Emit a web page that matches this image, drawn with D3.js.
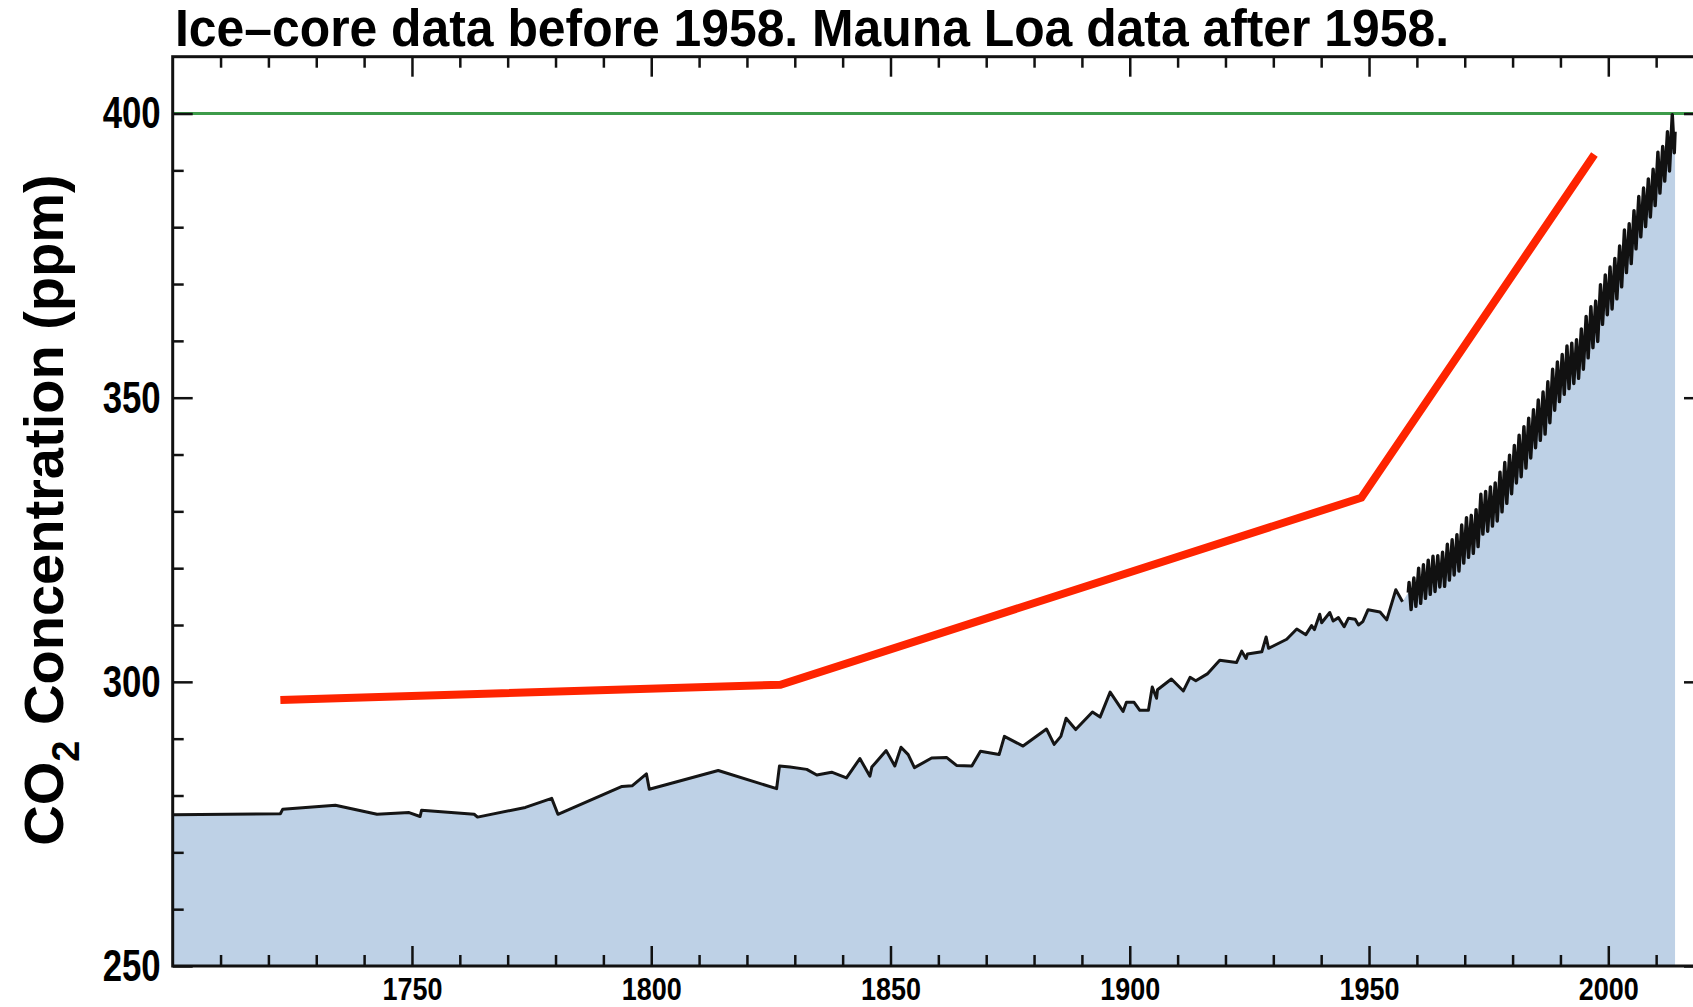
<!DOCTYPE html>
<html>
<head>
<meta charset="utf-8">
<script src="https://cdn.jsdelivr.net/npm/d3@7"></script>
<style>
  body { margin: 0; background: #fff; }
  svg { display: block; }
  text { font-family: "Liberation Sans", Arial, Helvetica, sans-serif; font-weight: bold; fill: #000; }
</style>
</head>
<body>
<div id="chart"></div>
<script>
// Ice-core record (Law Dome)
const iceYears = [1700, 1722.5, 1723, 1734, 1742.7, 1749.4, 1751.7, 1752, 1763, 1763.7,
  1773.7, 1779.2, 1780.5, 1793.9, 1796, 1799, 1799.6, 1814, 1826.2, 1826.8,
  1829, 1832.5, 1834.6, 1837.7, 1840.8, 1843.6, 1845.7, 1846.1, 1849.1, 1850.9,
  1852.2, 1853.7, 1855, 1858.6, 1861.7, 1863.8, 1867, 1868.8, 1872.7, 1873.8,
  1877.7, 1882.6, 1884.2, 1885.6, 1886.7, 1888.7, 1892.2, 1893.8, 1895.9, 1898.6,
  1899.3, 1900.9, 1902.1, 1903.9, 1904.7, 1905.6, 1905.8, 1908.7, 1911.2, 1912.6,
  1913.8, 1916.2, 1918.8, 1922.3, 1923.4, 1924.3, 1924.6, 1927.6, 1928.5, 1929,
  1932.8, 1934.9, 1936.8, 1938, 1938.6, 1939.7, 1940.1, 1941.8, 1942.5, 1943.6,
  1944.8, 1945.7, 1947.1, 1947.8, 1948.7, 1949.8, 1952.3, 1953.7, 1955.6, 1957];
const icePpm = [276.6, 276.8, 277.6, 278.3, 276.7, 277.0, 276.3, 277.4, 276.7, 276.2,
  277.9, 279.5, 276.7, 281.6, 281.7, 283.8, 281.1, 284.4, 281.2, 285.2,
  285.0, 284.6, 283.6, 284.1, 283.1, 286.5, 283.4, 285.0, 287.9, 285.2,
  288.5, 287.2, 284.9, 286.6, 286.7, 285.3, 285.2, 287.8, 287.2, 290.4,
  288.7, 291.7, 289.0, 290.4, 293.6, 291.6, 294.7, 293.8, 298.2, 294.8,
  296.4, 296.4, 295.0, 295.0, 299.1, 297.1, 298.6, 300.5, 298.4, 300.8,
  300.2, 301.4, 303.8, 303.4, 305.4, 304.1, 304.9, 305.3, 307.9, 305.9,
  307.5, 309.3, 308.3, 309.9, 309.2, 311.9, 310.4, 312.2, 310.7, 311.3,
  309.7, 311.2, 311.0, 310.0, 310.6, 312.7, 312.3, 310.9, 316.2, 314.1];

// Mauna Loa: yearly May peak and October trough
const mloYears = d3.range(1958, 2014);
const mloPeak = [317.5, 318.3, 320.0, 320.6, 321.4, 322.1, 322.2, 322.8, 324.2, 325.0,
  325.9, 327.6, 328.9, 329.3, 330.3, 333.0, 333.5, 334.3, 335.0, 336.9,
  338.6, 339.9, 341.6, 343.4, 344.9, 346.4, 347.9, 349.6, 351.0, 352.8,
  355.0, 356.3, 357.6, 359.1, 359.6, 360.2, 362.1, 364.3, 366.0, 367.0,
  369.9, 371.6, 373.0, 374.5, 376.7, 379.5, 380.6, 382.9, 385.4, 386.9,
  388.5, 390.2, 393.2, 394.2, 396.8, 399.8];
const mloTrough = [312.7, 313.3, 313.8, 314.7, 315.4, 315.9, 316.7, 316.8, 317.9, 318.8,
  319.5, 320.9, 321.9, 322.6, 323.8, 326.0, 326.5, 327.4, 328.3, 329.9,
  331.4, 333.1, 335.0, 336.1, 337.6, 339.4, 341.2, 342.5, 343.6, 345.6,
  347.8, 349.3, 350.6, 351.6, 352.5, 353.4, 355.0, 357.0, 358.8, 359.9,
  362.9, 364.6, 365.6, 367.4, 369.5, 372.0, 373.6, 376.2, 378.3, 380.1,
  381.8, 383.8, 386.0, 388.1, 389.9, 393.1];
const mloFirst = { year: 1958.2, ppm: 315.7 };
const mloLast = { year: 2013.95, ppm: 396.8 };

// hand-drawn red annotation
const redYears = [1722.5, 1827, 1948.4, 1997.1];
const redPpm = [296.8, 299.5, 332.4, 392.8];

const refLevel = 400;
const xMajor = [1750, 1800, 1850, 1900, 1950, 2000];
const yMajor = [250, 300, 350, 400];
const titleText = "Ice\u2013core data before 1958. Mauna Loa data after 1958.";

const width = 1693, height = 1007;
const plotLeft = 172.7, plotRight = 1704, plotTop = 56.7, plotBottom = 966;

const x = d3.scaleLinear().domain([1700, 2020]).range([plotLeft, plotRight]);
const y = d3.scaleLinear().domain([250, 410]).range([plotBottom, plotTop]);

const svg = d3.select("#chart").append("svg")
  .attr("width", width)
  .attr("height", height);

svg.append("defs").append("clipPath").attr("id", "plot")
  .append("rect")
  .attr("x", plotLeft).attr("y", plotTop)
  .attr("width", plotRight - plotLeft).attr("height", plotBottom - plotTop);

const ice = iceYears.map((yr, i) => ({ year: yr, ppm: icePpm[i] }));
const mlo = [mloFirst];
mloYears.forEach((yr, i) => {
  mlo.push({ year: yr + 0.37, ppm: mloPeak[i] });
  mlo.push({ year: yr + 0.79, ppm: mloTrough[i] });
});
mlo.push(mloLast);

const plot = svg.append("g").attr("clip-path", "url(#plot)");

plot.append("path")
  .datum(ice.concat(mlo))
  .attr("fill", "#bed1e6")
  .attr("d", d3.area().x(d => x(d.year)).y0(y(250)).y1(d => y(d.ppm)));

plot.append("line")
  .attr("x1", plotLeft).attr("x2", plotRight)
  .attr("y1", y(refLevel)).attr("y2", y(refLevel))
  .attr("stroke", "#3d9b4a")
  .attr("stroke-width", 3);

const line = d3.line().x(d => x(d.year)).y(d => y(d.ppm));
plot.append("path")
  .datum(ice)
  .attr("fill", "none")
  .attr("stroke", "#151515")
  .attr("stroke-width", 3)
  .attr("stroke-linejoin", "round")
  .attr("d", line);
plot.append("path")
  .datum(mlo)
  .attr("fill", "none")
  .attr("stroke", "#111")
  .attr("stroke-width", 3.4)
  .attr("stroke-linejoin", "round")
  .attr("d", line);

plot.append("path")
  .datum(redYears.map((yr, i) => ({ year: yr, ppm: redPpm[i] })))
  .attr("fill", "none")
  .attr("stroke", "#fe2400")
  .attr("stroke-width", 8)
  .attr("d", line);

// axes, ticks pointing inward
const xMinor = d3.range(1710, 2020, 10).filter(v => v % 50 !== 0);
const yMinor = d3.range(260, 410, 10).filter(v => v % 50 !== 0);

function styleAxis(g) {
  g.select(".domain").remove();
  g.selectAll(".tick line").attr("stroke", "#111").attr("stroke-width", 2.5);
}

svg.append("g").attr("transform", `translate(0,${plotBottom})`)
  .call(d3.axisBottom(x).tickValues(xMinor).tickSize(-11).tickFormat(""))
  .call(styleAxis);
const xb = svg.append("g").attr("transform", `translate(0,${plotBottom})`)
  .call(d3.axisBottom(x).tickValues(xMajor).tickSize(-20).tickPadding(12).tickFormat(d3.format("d")))
  .call(styleAxis);
xb.selectAll("text")
  .attr("font-size", 31)
  .attr("textLength", 60)
  .attr("lengthAdjust", "spacingAndGlyphs");

svg.append("g").attr("transform", `translate(0,${plotTop})`)
  .call(d3.axisTop(x).tickValues(xMinor).tickSize(-11).tickFormat(""))
  .call(styleAxis);
svg.append("g").attr("transform", `translate(0,${plotTop})`)
  .call(d3.axisTop(x).tickValues(xMajor).tickSize(-20).tickFormat(""))
  .call(styleAxis);

svg.append("g").attr("transform", `translate(${plotLeft},0)`)
  .call(d3.axisLeft(y).tickValues(yMinor).tickSize(-11).tickFormat(""))
  .call(styleAxis);
const yl = svg.append("g").attr("transform", `translate(${plotLeft},0)`)
  .call(d3.axisLeft(y).tickValues(yMajor).tickSize(-20).tickPadding(12).tickFormat(d3.format("d")))
  .call(styleAxis);
yl.selectAll("text")
  .attr("font-size", 45)
  .attr("textLength", 58)
  .attr("lengthAdjust", "spacingAndGlyphs");

svg.append("g").attr("transform", `translate(${plotRight},0)`)
  .call(d3.axisRight(y).tickValues(yMinor).tickSize(-11).tickFormat(""))
  .call(styleAxis);
svg.append("g").attr("transform", `translate(${plotRight},0)`)
  .call(d3.axisRight(y).tickValues(yMajor).tickSize(-20).tickFormat(""))
  .call(styleAxis);

// frame
svg.append("rect")
  .attr("x", plotLeft).attr("y", plotTop)
  .attr("width", plotRight - plotLeft).attr("height", plotBottom - plotTop)
  .attr("fill", "none")
  .attr("stroke", "#111")
  .attr("stroke-width", 3);

// title
svg.append("text")
  .attr("x", 175).attr("y", 46)
  .attr("font-size", 51)
  .attr("textLength", 1274)
  .attr("lengthAdjust", "spacingAndGlyphs")
  .text(titleText);

// y axis label
const ylab = svg.append("text")
  .attr("transform", "translate(63,510) rotate(-90)")
  .attr("text-anchor", "middle")
  .attr("font-size", 56);
ylab.append("tspan").text("CO");
ylab.append("tspan").attr("font-size", 38).attr("dy", 16).text("2");
ylab.append("tspan").attr("dy", -16).text(" Concentration (ppm)");
</script>
</body>
</html>
